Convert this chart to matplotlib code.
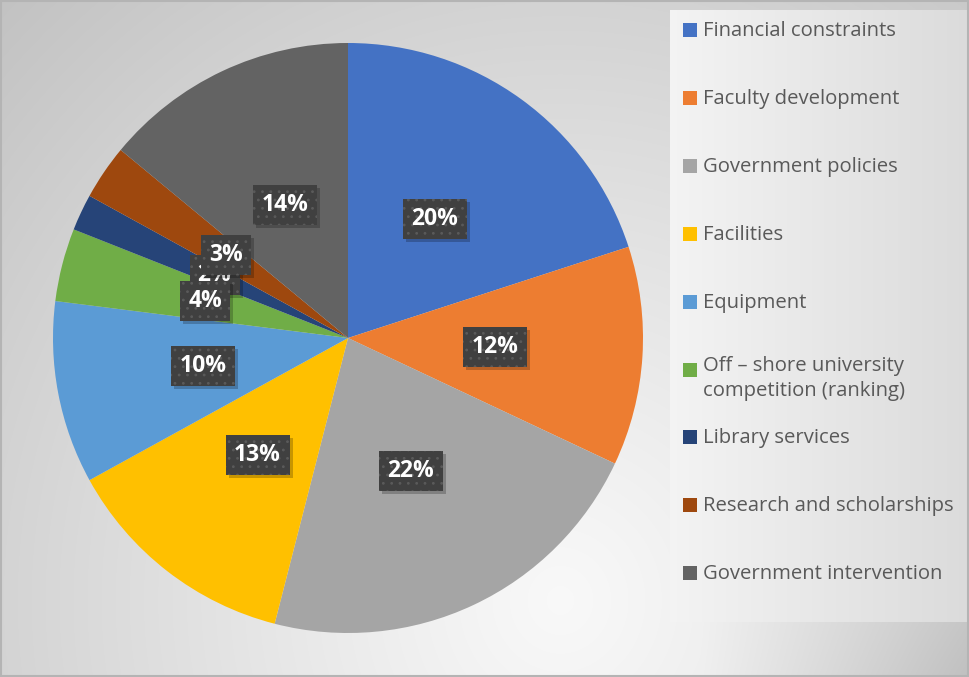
import numpy as np
import matplotlib
matplotlib.use("Agg")
import matplotlib.pyplot as plt
from matplotlib.patches import Rectangle

plt.rcParams['font.family'] = ['Open Sans', 'DejaVu Sans']
plt.rcParams['hatch.linewidth'] = 0.8

# data
categories = ["Financial constraints", "Faculty development", "Government policies",
              "Facilities", "Equipment", "Off – shore university\ncompetition (ranking)",
              "Library services", "Research and scholarships", "Government intervention"]
shares = [20, 12, 22, 13, 10, 4, 2, 3, 14]
colors = ["#4472C4", "#ED7D31", "#A5A5A5", "#FFC000", "#5B9BD5",
          "#70AD47", "#264478", "#9E480E", "#636363"]

W, H = 970, 677
fig = plt.figure(figsize=(W / 100, H / 100), dpi=100)

# background gradient
bg = fig.add_axes([0, 0, 1, 1])
yy, xx = np.mgrid[0:H, 0:W]
d = np.sqrt((xx - 560) ** 2 + ((yy - 600) / 1.05) ** 2)
shade = 0.975 - 0.22 * np.clip(d / 820, 0, 1) ** 1.1
right = np.clip((xx - 700) / 270, 0, 1) * np.clip((yy - 380) / 300, 0, 1)
shade = shade - 0.12 * right
bg.imshow(np.dstack([shade] * 3), extent=(0, W, H, 0), aspect='auto', interpolation='bilinear')
bg.set_xlim(0, W)
bg.set_ylim(H, 0)
bg.axis('off')

# legend panel
lx0, lx1, ly0, ly1 = 670, 968, 10, 622
gx = np.linspace(0, 1, 200)
panel = 0.955 - 0.095 * gx
bg.imshow(np.dstack([np.tile(panel, (50, 1))] * 3), extent=(lx0, lx1, ly1, ly0),
          aspect='auto', zorder=1)

# outer border
bg.add_patch(Rectangle((1, 1), W - 2.5, H - 2.5, fill=False, edgecolor='#b4b4b4', lw=1.5, zorder=5))

# legend entries
for i, (lab, col) in enumerate(zip(categories, colors)):
    y = 30 + i * 67.9
    bg.add_patch(Rectangle((683, y - 7), 14, 14, facecolor=col, edgecolor='none', zorder=3))
    if '\n' in lab:
        bg.text(703, y - 13, lab, fontsize=14.6, color='#595959', va='top', ha='left',
                linespacing=1.3, zorder=3)
    else:
        bg.text(703, y + 1, lab, fontsize=14.6, color='#595959', va='center', ha='left', zorder=3)

# pie
ax = fig.add_axes([53 / W, 44 / H, 590 / W, 590 / H])
ax.patch.set_alpha(0)
wedges, texts, autotexts = ax.pie(shares, colors=colors, startangle=90, counterclock=False,
                                  radius=1, autopct='%1.0f%%', pctdistance=0.5,
                                  wedgeprops=dict(linewidth=0))
ax.set_xlim(-1, 1)
ax.set_ylim(-1, 1)
ax.set_aspect('equal')
ax.axis('off')

px = 2 / 590  # one pixel in data units
for i, t in enumerate(autotexts):
    z = 4 if shares[i] == 2 else 6
    x0, y0 = t.get_position()
    bw = (22 + 14 * len(t.get_text())) * px
    bh = 40 * px
    # drop shadow
    ax.add_patch(Rectangle((x0 - bw / 2 + 3 * px, y0 - bh / 2 - 3 * px), bw, bh,
                           facecolor='black', alpha=0.22, edgecolor='none', zorder=z))
    ax.add_patch(Rectangle((x0 - bw / 2, y0 - bh / 2), bw, bh, facecolor='#404040',
                           edgecolor='#5a5a5a', hatch='..', linewidth=0, zorder=z + 0.2))
    t.set_color('white')
    t.set_fontsize(16.5)
    t.set_fontweight('bold')
    t.set_zorder(z + 0.5)

fig.savefig('out.png', dpi=100)
